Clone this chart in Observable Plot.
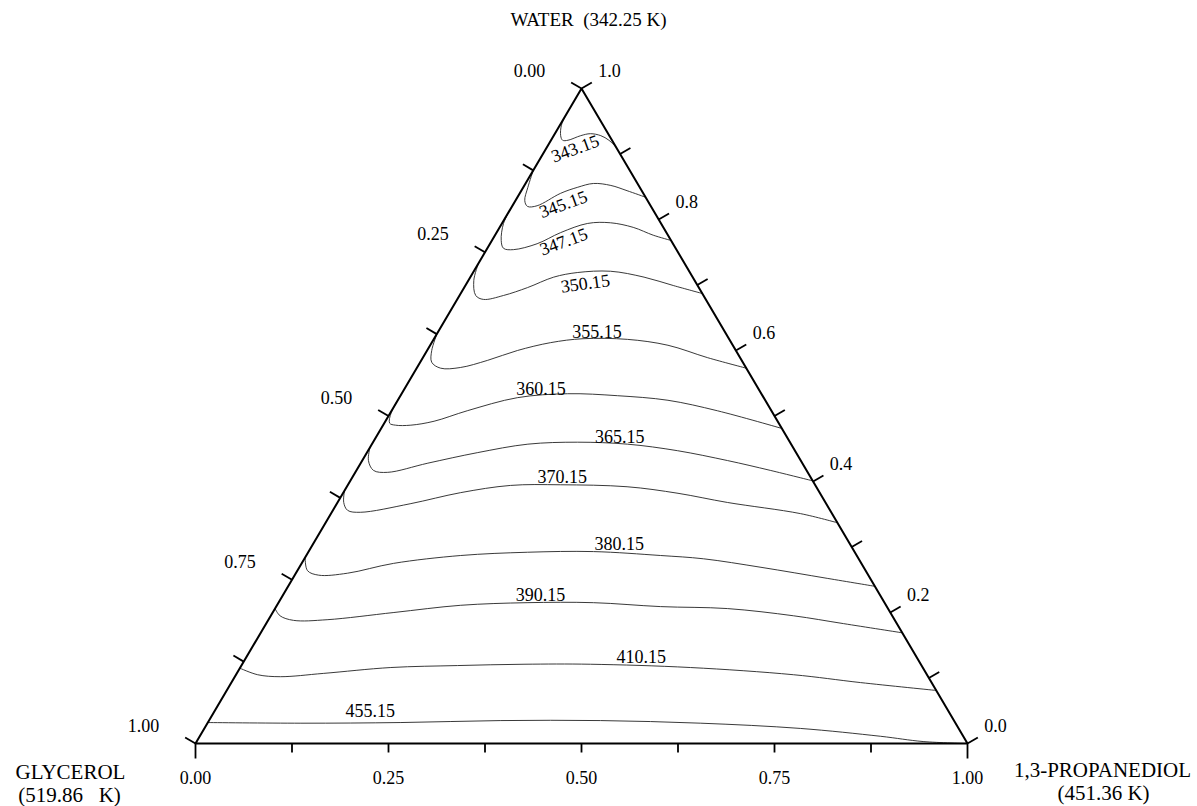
<!DOCTYPE html>
<html><head><meta charset="utf-8">
<script src="https://cdn.jsdelivr.net/npm/d3@7"></script>
<script src="https://cdn.jsdelivr.net/npm/@observablehq/plot@0.6"></script>
<style>html,body{margin:0;padding:0;background:#fff;overflow:hidden}svg{display:block}</style>
</head><body><div id="chart"></div>
<script>
// Isotherm temperatures (K)
const temperatures = [343.15, 345.15, 347.15, 350.15, 355.15, 360.15, 365.15, 370.15, 380.15, 390.15, 410.15, 455.15];
// Isotherm points as [1,3-propanediol fraction, water fraction]; glycerol = 1 - both
const iso343 = [[0,0.959],[0.002,0.944],[0.009,0.928],[0.015,0.921],[0.022,0.921],[0.035,0.928],[0.046,0.931],[0.061,0.928],[0.075,0.921],[0.090,0.910]];
const iso345 = [[0,0.875],[0.006,0.849],[0.012,0.829],[0.020,0.820],[0.032,0.821],[0.053,0.840],[0.070,0.849],[0.088,0.855],[0.112,0.852],[0.137,0.844],[0.166,0.834]];
const iso347 = [[0,0.817],[0.002,0.794],[0.012,0.768],[0.021,0.756],[0.035,0.754],[0.061,0.763],[0.083,0.780],[0.111,0.794],[0.140,0.795],[0.173,0.788],[0.205,0.776],[0.232,0.768]];
const iso350 = [[0,0.733],[0.007,0.707],[0.021,0.684],[0.034,0.678],[0.057,0.684],[0.082,0.696],[0.108,0.712],[0.135,0.719],[0.177,0.721],[0.225,0.712],[0.270,0.699],[0.313,0.687]];
const iso355 = [[0,0.626],[0.006,0.600],[0.015,0.582],[0.031,0.573],[0.056,0.574],[0.086,0.585],[0.117,0.600],[0.154,0.612],[0.193,0.618],[0.251,0.617],[0.308,0.608],[0.369,0.589],[0.427,0.573]];
const iso360 = [[0,0.530],[0.001,0.505],[0.007,0.489],[0.016,0.486],[0.036,0.486],[0.063,0.492],[0.098,0.508],[0.153,0.528],[0.215,0.534],[0.281,0.531],[0.350,0.524],[0.422,0.508],[0.519,0.481]];
const iso365 = [[0,0.452],[0.008,0.432],[0.022,0.417],[0.042,0.414],[0.087,0.428],[0.143,0.444],[0.202,0.457],[0.265,0.460],[0.331,0.457],[0.401,0.447],[0.473,0.432],[0.536,0.417],[0.599,0.401]];
const iso370 = [[0,0.386],[0.008,0.368],[0.019,0.356],[0.037,0.353],[0.095,0.366],[0.152,0.383],[0.211,0.394],[0.275,0.395],[0.363,0.392],[0.434,0.382],[0.505,0.368],[0.608,0.351],[0.663,0.337]];
const iso380 = [[0,0.284],[0.013,0.264],[0.031,0.257],[0.067,0.260],[0.119,0.275],[0.200,0.287],[0.284,0.292],[0.369,0.293],[0.459,0.287],[0.517,0.282],[0.598,0.269],[0.693,0.252],[0.760,0.240]];
const iso390 = [[0,0.206],[0.012,0.195],[0.033,0.188],[0.076,0.189],[0.157,0.200],[0.238,0.211],[0.322,0.215],[0.408,0.215],[0.498,0.209],[0.586,0.206],[0.677,0.195],[0.748,0.183],[0.831,0.169]];
const iso410 = [[0,0.115],[0.028,0.105],[0.059,0.102],[0.112,0.107],[0.195,0.116],[0.280,0.119],[0.365,0.121],[0.451,0.121],[0.583,0.116],[0.722,0.105],[0.815,0.093],[0.919,0.081]];
const iso455 = [[0,0.032],[0.121,0.031],[0.250,0.032],[0.378,0.035],[0.507,0.035],[0.639,0.031],[0.772,0.023],[0.882,0.011],[0.941,0.003],[1.0,0.0]];
const isotherms = [iso343, iso345, iso347, iso350, iso355, iso360, iso365, iso370, iso380, iso390, iso410, iso455];

// Where each isotherm label sits (composition) and its tilt
const labelPropanediol = [0.038, 0.065, 0.094, 0.154, 0.206, 0.177, 0.316, 0.272, 0.397, 0.334, 0.512, 0.202];
const labelWater       = [0.908, 0.823, 0.766, 0.702, 0.628, 0.541, 0.467, 0.406, 0.304, 0.226, 0.131, 0.049];
const labelAngle       = [-20, -20, -20, -8, 0, 0, 0, 0, 0, 0, 0, 0];

// Axis ticks and labels
const bottomTicks = [0, 0.125, 0.25, 0.375, 0.5, 0.625, 0.75, 0.875, 1];   // 1,3-propanediol
const bottomLabelValues = [0, 0.25, 0.5, 0.75, 1];
const bottomLabels = ["0.00", "0.25", "0.50", "0.75", "1.00"];
const leftTicks = [0, 0.125, 0.25, 0.375, 0.5, 0.625, 0.75, 0.875, 1];     // glycerol
const leftLabelValues = [0, 0.25, 0.5, 0.75, 1];
const leftLabels = ["0.00", "0.25", "0.50", "0.75", "1.00"];
const rightTicks = [0, 0.1, 0.2, 0.3, 0.4, 0.5, 0.6, 0.7, 0.8, 0.9, 1];    // water
const rightLabelValues = [0, 0.2, 0.4, 0.6, 0.8, 1];
const rightLabels = ["0.0", "0.2", "0.4", "0.6", "0.8", "1.0"];

const vertexNames = ["GLYCEROL", "1,3-PROPANEDIOL", "WATER"];
const vertexTemps = ["(519.86\u00A0\u00A0 K)", "(451.36 K)", "(342.25 K)"];

// ---- layout ----
const XR = [195, 967], YR = [743, 88];
const sx = XR[1] - XR[0], sy = YR[0] - YR[1];
const FONT = "'Liberation Serif', 'Times New Roman', serif";

// ternary -> cartesian data coords (x in [0,1], y = water)
const tx = (p, w) => p + w / 2;

// pixel-space outward normals of the edges
const Wpx = [(XR[0] + XR[1]) / 2, YR[1]], Gpx = [XR[0], YR[0]], Ppx = [XR[1], YR[0]];
function norm(v) { const l = Math.hypot(v[0], v[1]); return [v[0] / l, v[1] / l]; }
const eL = [Gpx[0] - Wpx[0], Gpx[1] - Wpx[1]];
const nL = norm([-eL[1], eL[0]]);
const eR = [Ppx[0] - Wpx[0], Ppx[1] - Wpx[1]];
const nR = norm([eR[1], -eR[0]]);
function tick(x, y, n, len) { return {x1: x, y1: y, x2: x + n[0] * len / sx, y2: y - n[1] * len / sy}; }

const ticks = [
  ...bottomTicks.map(p => tick(p, 0, [0, 1], (p === 0 || p === 1) ? 15 : 9)),
  ...leftTicks.map(g => tick(tx(0, 1 - g), 1 - g, nL, 12)),
  ...rightTicks.map(w => tick(tx(1 - w, w), w, nR, 12))
];

const lineData = isotherms.flatMap((pts, i) => pts.map(([p, w]) => ({T: temperatures[i], x: tx(p, w), y: w})));
const labelData = temperatures.map((T, i) => ({
  text: T.toFixed(2), x: tx(labelPropanediol[i], labelWater[i]), y: labelWater[i], a: labelAngle[i]
}));

const edge = [{x: 0, y: 0}, {x: 1, y: 0}, {x: 0.5, y: 1}, {x: 0, y: 0}];

const chart = Plot.plot({
  width: 1197, height: 806, margin: 0,
  x: {domain: [0, 1], range: XR, axis: null},
  y: {domain: [0, 1], range: YR, axis: null},
  style: {fontFamily: FONT, background: "#fff", color: "#000"},
  marks: [
    Plot.line(lineData, {x: "x", y: "y", z: "T", curve: "catmull-rom", stroke: "#222", strokeWidth: 0.9}),
    Plot.line(edge, {x: "x", y: "y", stroke: "#000", strokeWidth: 2, strokeLinejoin: "miter"}),
    Plot.link(ticks, {x1: "x1", y1: "y1", x2: "x2", y2: "y2", stroke: "#000", strokeWidth: 1.8}),
    Plot.text(labelData, {x: "x", y: "y", text: "text", rotate: "a", fontSize: 18, fill: "#000", lineAnchor: "middle"}),
    // bottom axis labels
    Plot.text(bottomLabelValues, {x: d => d, y: () => 0, text: (d, i) => bottomLabels[i], dy: 40, lineAnchor: "bottom", fontSize: 18}),
    // left axis labels (glycerol)
    Plot.text(leftLabelValues, {x: g => tx(0, 1 - g), y: g => 1 - g, text: (d, i) => leftLabels[i], dx: -52, dy: -12, lineAnchor: "bottom", fontSize: 18}),
    // right axis labels (water)
    Plot.text(rightLabelValues, {x: w => tx(1 - w, w), y: w => w, text: (d, i) => rightLabels[i], dx: 28, dy: -12, lineAnchor: "bottom", fontSize: 18}),
    // vertex names
    Plot.text([0], {x: () => 0, y: () => 0, text: () => vertexNames[0], dx: -125, dy: 35, lineAnchor: "bottom", fontSize: 21}),
    Plot.text([0], {x: () => 0, y: () => 0, text: () => vertexTemps[0], dx: -126, dy: 58.5, lineAnchor: "bottom", fontSize: 21}),
    Plot.text([0], {x: () => 1, y: () => 0, text: () => vertexNames[1], dx: 135, dy: 33, lineAnchor: "bottom", fontSize: 21}),
    Plot.text([0], {x: () => 1, y: () => 0, text: () => vertexTemps[1], dx: 136, dy: 56.5, lineAnchor: "bottom", fontSize: 21}),
    Plot.text([0], {x: () => 0.5, y: () => 1, text: () => vertexNames[2] + "  " + vertexTemps[2], dx: 7, dy: -63, lineAnchor: "bottom", fontSize: 19})
  ]
});
document.getElementById("chart").appendChild(chart);
</script>
</body></html>
